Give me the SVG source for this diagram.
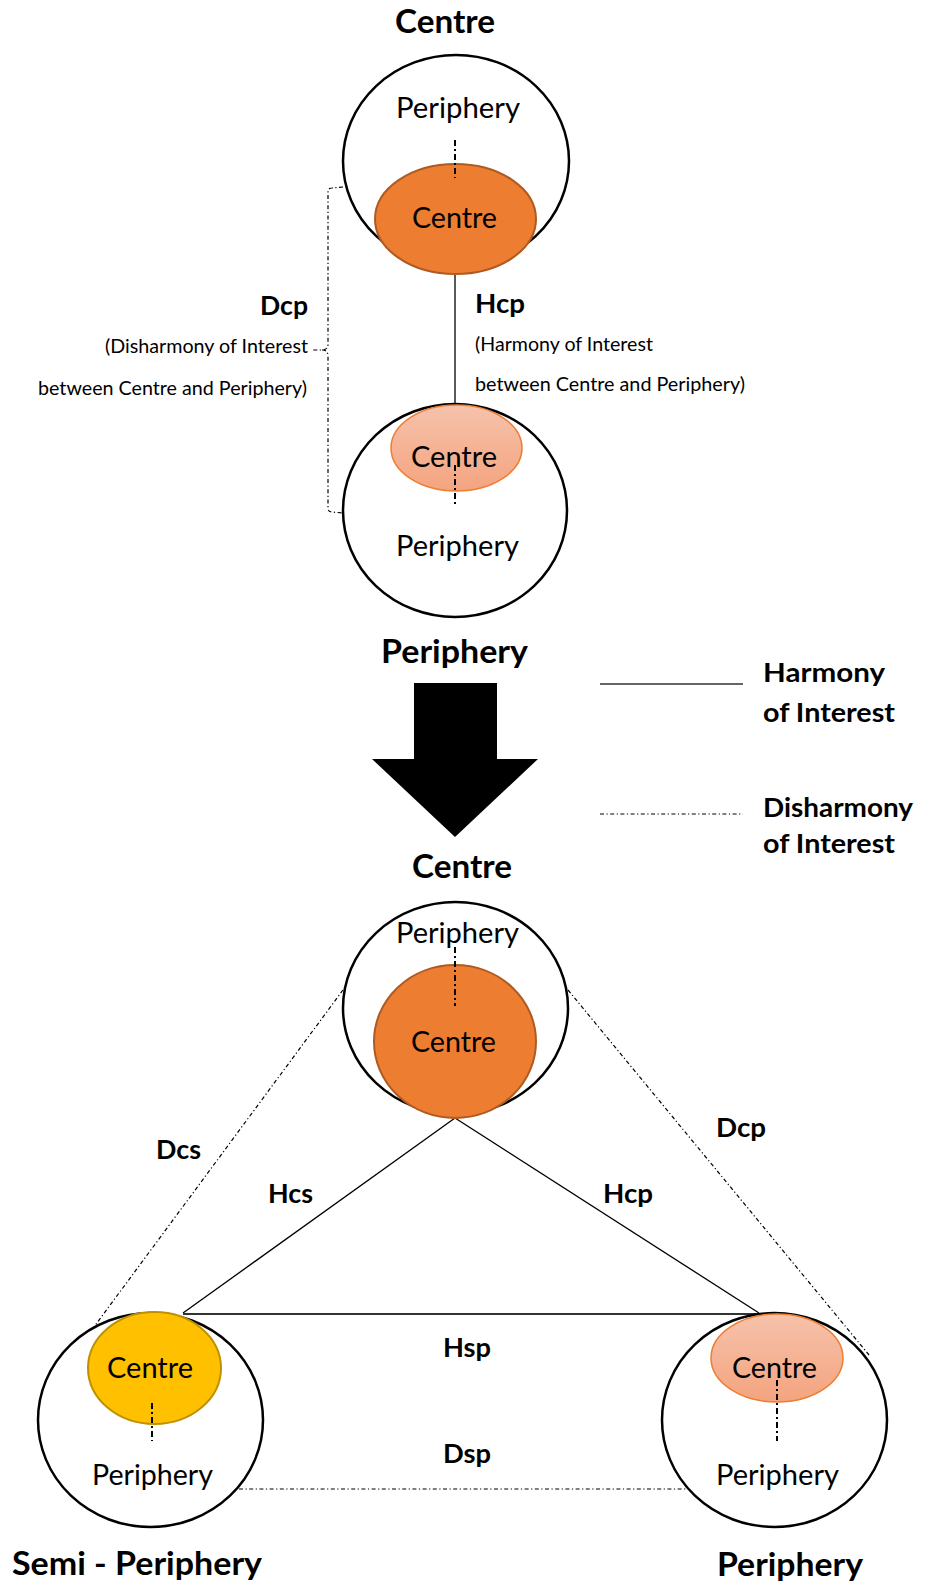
<svg xmlns="http://www.w3.org/2000/svg" width="929" height="1585" viewBox="0 0 929 1585">
  <style>
    .title { font-family: Lato, "Liberation Sans", sans-serif; font-weight: bold; font-size: 32px; fill: #000; }
    .inner { font-family: Lato, "Liberation Sans", sans-serif; font-size: 28px; fill: #000; }
    .label { font-family: Lato, "Liberation Sans", sans-serif; font-weight: bold; font-size: 26px; fill: #000; }
    .note  { font-family: Lato, "Liberation Sans", sans-serif; font-size: 19px; fill: #000; }
    .ring  { fill: #fff; stroke: #000; stroke-width: 2.5; }
    .core  { fill: #ED7D31; stroke: #AE5A21; stroke-width: 2; }
    .soft  { fill: url(#softFill); stroke: #ED7D31; stroke-width: 1.5; }
    .semi  { fill: #FFC000; stroke: #BF9000; stroke-width: 2; }
    .axis  { fill: none; stroke: #000; stroke-width: 2; stroke-dasharray: 6 3 2 3; }
    .harm  { fill: none; stroke: #000; stroke-width: 1.3; }
    .dish  { fill: none; stroke: #000; stroke-width: 1.2; stroke-dasharray: 4 2.5 1.2 2.5; }
  </style>
  <defs>
    <linearGradient id="softFill" x1="0" y1="0" x2="0" y2="1">
      <stop offset="0" stop-color="#F6C2AB"/>
      <stop offset="1" stop-color="#F4A47F"/>
    </linearGradient>
  </defs>

  <rect width="929" height="1585" fill="#fff"/>

  <!-- connectors -->
  <g id="connectors">
    <!-- upper pair -->
    <line class="harm" x1="455" y1="272" x2="455" y2="405"/>
    <path class="dish" d="M343,187 L332,188 Q328,188 328,192 L328,344 Q328,350 322,350 L312,350 M322,350 Q328,350 328,356 L328,508 Q328,512 332,512 L343,513"/>
    <!-- triangle -->
    <line class="harm" x1="455" y1="1118" x2="183" y2="1313"/>
    <line class="harm" x1="455" y1="1118" x2="759" y2="1313"/>
    <line x1="183" y1="1314" x2="759" y2="1314" stroke="#333" stroke-width="1.8"/>
    <line class="dish" x1="343" y1="990" x2="88" y2="1335"/>
    <line class="dish" x1="568" y1="990" x2="869" y2="1355"/>
    <line class="dish" x1="239" y1="1489" x2="695" y2="1489"/>
  </g>

  <!-- upper centre node -->
  <g id="node-top-centre">
    <text class="title" x="395" y="33" textLength="100" lengthAdjust="spacingAndGlyphs">Centre</text>
    <ellipse class="ring" cx="456" cy="161" rx="113" ry="106"/>
    <text class="inner" x="396" y="118" textLength="124" lengthAdjust="spacingAndGlyphs">Periphery</text>
    <ellipse class="core" cx="455.5" cy="219" rx="80.5" ry="55"/>
    <text class="inner" x="412" y="228" textLength="85" lengthAdjust="spacingAndGlyphs">Centre</text>
    <line class="axis" x1="455" y1="140" x2="455" y2="178"/>
  </g>

  <!-- upper periphery node -->
  <g id="node-top-periphery">
    <ellipse class="ring" cx="455" cy="510.5" rx="112" ry="106.5"/>
    <ellipse class="soft" cx="456.5" cy="448" rx="65.5" ry="43"/>
    <text class="inner" x="411" y="467" textLength="86" lengthAdjust="spacingAndGlyphs">Centre</text>
    <line class="axis" x1="455" y1="465" x2="455" y2="506"/>
    <text class="inner" x="396" y="556" textLength="123" lengthAdjust="spacingAndGlyphs">Periphery</text>
    <text class="title" x="381" y="663" textLength="147" lengthAdjust="spacingAndGlyphs">Periphery</text>
  </g>

  <!-- upper labels -->
  <g id="labels-upper">
    <text class="label" x="260" y="315" textLength="48" lengthAdjust="spacingAndGlyphs">Dcp</text>
    <text class="note" x="105" y="353" textLength="203" lengthAdjust="spacingAndGlyphs">(Disharmony of Interest</text>
    <text class="note" x="38" y="395" textLength="269" lengthAdjust="spacingAndGlyphs">between Centre and Periphery)</text>
    <text class="label" x="475" y="313" textLength="50" lengthAdjust="spacingAndGlyphs">Hcp</text>
    <text class="note" x="475" y="351" textLength="178" lengthAdjust="spacingAndGlyphs">(Harmony of Interest</text>
    <text class="note" x="475" y="391" textLength="270" lengthAdjust="spacingAndGlyphs">between Centre and Periphery)</text>
  </g>

  <!-- transition arrow -->
  <g id="arrow">
    <polygon points="414,683 497,683 497,759 538,759 455,837 372,759 414,759" fill="#000"/>
  </g>

  <!-- legend -->
  <g id="legend">
    <line x1="600" y1="684" x2="743" y2="684" stroke="#333" stroke-width="1.5"/>
    <text class="label" x="763" y="682" textLength="122" lengthAdjust="spacingAndGlyphs">Harmony</text>
    <text class="label" x="763" y="722" textLength="132" lengthAdjust="spacingAndGlyphs">of Interest</text>
    <line class="dish" x1="600" y1="814" x2="743" y2="814"/>
    <text class="label" x="763" y="817" textLength="150" lengthAdjust="spacingAndGlyphs">Disharmony</text>
    <text class="label" x="763" y="853" textLength="132" lengthAdjust="spacingAndGlyphs">of Interest</text>
  </g>

  <!-- lower centre node -->
  <g id="node-bottom-centre">
    <text class="title" x="412" y="878" textLength="100" lengthAdjust="spacingAndGlyphs">Centre</text>
    <ellipse class="ring" cx="455.5" cy="1008" rx="112.5" ry="106"/>
    <text class="inner" x="396" y="943" textLength="123" lengthAdjust="spacingAndGlyphs">Periphery</text>
    <ellipse class="core" cx="455" cy="1041.5" rx="81" ry="76.5"/>
    <text class="inner" x="411" y="1052" textLength="85" lengthAdjust="spacingAndGlyphs">Centre</text>
    <line class="axis" x1="455" y1="947" x2="455" y2="1006"/>
  </g>

  <!-- semi-periphery node -->
  <g id="node-semi-periphery">
    <ellipse class="ring" cx="150.5" cy="1420" rx="112.5" ry="107"/>
    <ellipse class="semi" cx="154.5" cy="1368" rx="66.5" ry="56"/>
    <text class="inner" x="107" y="1378" textLength="86" lengthAdjust="spacingAndGlyphs">Centre</text>
    <line class="axis" x1="152" y1="1403" x2="152" y2="1441"/>
    <text class="inner" x="92" y="1485" textLength="121" lengthAdjust="spacingAndGlyphs">Periphery</text>
    <text class="title" x="12" y="1575" textLength="250" lengthAdjust="spacingAndGlyphs">Semi - Periphery</text>
  </g>

  <!-- periphery node -->
  <g id="node-periphery">
    <ellipse class="ring" cx="774.5" cy="1420" rx="112.5" ry="107"/>
    <ellipse class="soft" cx="777" cy="1358" rx="66" ry="44"/>
    <text class="inner" x="732" y="1378" textLength="85" lengthAdjust="spacingAndGlyphs">Centre</text>
    <line class="axis" x1="777" y1="1380" x2="777" y2="1441"/>
    <text class="inner" x="716" y="1485" textLength="123" lengthAdjust="spacingAndGlyphs">Periphery</text>
    <text class="title" x="717" y="1576" textLength="146" lengthAdjust="spacingAndGlyphs">Periphery</text>
  </g>

  <!-- lower labels -->
  <g id="labels-lower">
    <text class="label" x="156" y="1159" textLength="45" lengthAdjust="spacingAndGlyphs">Dcs</text>
    <text class="label" x="268" y="1203" textLength="45" lengthAdjust="spacingAndGlyphs">Hcs</text>
    <text class="label" x="603" y="1203" textLength="50" lengthAdjust="spacingAndGlyphs">Hcp</text>
    <text class="label" x="716" y="1137" textLength="50" lengthAdjust="spacingAndGlyphs">Dcp</text>
    <text class="label" x="443" y="1357" textLength="48" lengthAdjust="spacingAndGlyphs">Hsp</text>
    <text class="label" x="443" y="1463" textLength="48" lengthAdjust="spacingAndGlyphs">Dsp</text>
  </g>
</svg>
